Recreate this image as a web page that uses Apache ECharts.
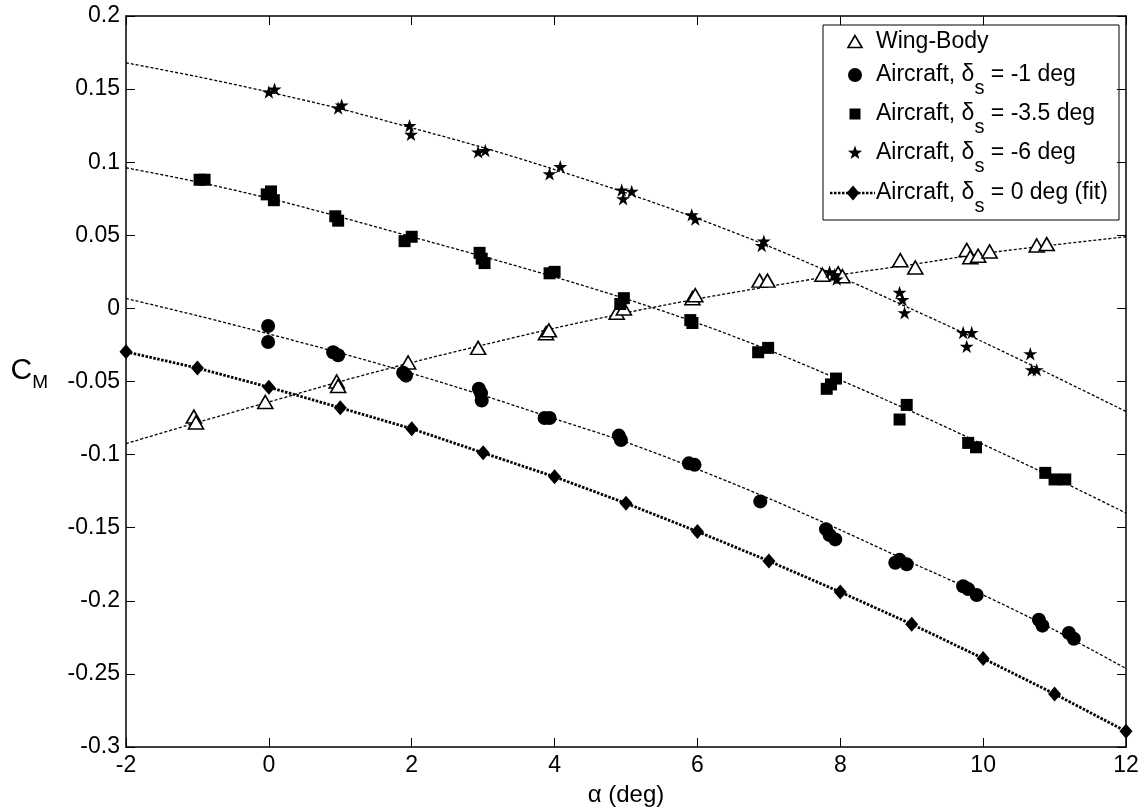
<!DOCTYPE html>
<html>
<head>
<meta charset="utf-8">
<script src="https://cdn.jsdelivr.net/npm/echarts@6/dist/echarts.min.js"></script>
<style>
  html, body { margin: 0; padding: 0; background: #fff; }
  #chart { width: 1142px; height: 812px; }
</style>
</head>
<body>
<div id="chart"></div>
<script>
// Pitching-moment coefficient vs angle of attack

// Wing-body (open triangles)
const wingBodyAlpha = [-1.05, -1.02, -0.05, 0.95, 0.97, 1.95, 2.93, 3.88, 3.92, 4.87, 4.97, 5.93, 5.97, 6.87, 6.98, 7.75, 7.97, 8.03, 8.84, 9.05, 9.77, 9.82, 9.93, 10.09, 10.75, 10.89];
const wingBodyCm    = [-0.074, -0.078, -0.064, -0.050, -0.053, -0.037, -0.027, -0.017, -0.015, -0.003, 0.000, 0.007, 0.009, 0.019, 0.019, 0.023, 0.024, 0.022, 0.033, 0.028, 0.040, 0.035, 0.036, 0.039, 0.043, 0.044];

// Aircraft, delta_s = -1 deg (filled circles)
const ds1Alpha = [-0.01, -0.01, 0.90, 0.97, 1.88, 1.92, 2.94, 2.97, 2.98, 3.86, 3.93, 4.90, 4.93, 5.88, 5.96, 6.88, 7.80, 7.85, 7.93, 8.77, 8.83, 8.93, 9.72, 9.79, 9.91, 10.78, 10.83, 11.20, 11.27];
const ds1Cm    = [-0.012, -0.023, -0.030, -0.032, -0.044, -0.046, -0.055, -0.058, -0.063, -0.075, -0.075, -0.087, -0.090, -0.106, -0.107, -0.132, -0.151, -0.155, -0.158, -0.174, -0.172, -0.175, -0.190, -0.192, -0.196, -0.213, -0.217, -0.222, -0.226];

// Aircraft, delta_s = -3.5 deg (filled squares)
const ds35Alpha = [-0.97, -0.90, -0.03, 0.03, 0.07, 0.93, 0.97, 1.90, 2.00, 2.95, 2.98, 3.02, 3.93, 4.00, 4.92, 4.97, 5.90, 5.93, 6.85, 6.99, 7.81, 7.87, 7.94, 8.83, 8.93, 9.79, 9.90, 10.87, 11.00, 11.15];
const ds35Cm    = [0.088, 0.088, 0.078, 0.080, 0.074, 0.063, 0.060, 0.046, 0.049, 0.038, 0.034, 0.031, 0.024, 0.025, 0.003, 0.007, -0.008, -0.010, -0.030, -0.027, -0.055, -0.052, -0.048, -0.076, -0.066, -0.092, -0.095, -0.1125, -0.117, -0.117];

// Aircraft, delta_s = -6 deg (stars)
const ds6Alpha = [0.00, 0.08, 0.97, 1.02, 1.97, 1.99, 2.93, 3.03, 3.93, 4.08, 4.94, 4.96, 5.08, 5.92, 5.97, 6.90, 6.93, 7.85, 7.92, 7.95, 8.83, 8.87, 8.90, 9.72, 9.84, 9.77, 10.66, 10.68, 10.75];
const ds6Cm    = [0.148, 0.150, 0.137, 0.139, 0.125, 0.119, 0.107, 0.108, 0.092, 0.097, 0.081, 0.075, 0.080, 0.064, 0.061, 0.043, 0.046, 0.025, 0.023, 0.020, 0.011, 0.006, -0.003, -0.0165, -0.0165, -0.026, -0.031, -0.042, -0.042];

// Aircraft, delta_s = 0 deg fit (diamonds joined by a dotted line)
const ds0Alpha = [-2, -1, 0, 1, 2, 3, 4, 5, 6, 7, 8, 9, 10, 11, 12];
const ds0Cm    = [-0.0297, -0.0408, -0.0539, -0.068, -0.0823, -0.0988, -0.1152, -0.1333, -0.1526, -0.1728, -0.194, -0.216, -0.2394, -0.2637, -0.2893];

// Curve fits through each measured set
const fitAlpha    = [-2, -1, 0, 1, 2, 3, 4, 5, 6, 7, 8, 9, 10, 11, 12];
const fitWingBody = [-0.0925, -0.078, -0.064, -0.050, -0.037, -0.025, -0.0135, -0.003, 0.0065, 0.015, 0.023, 0.030, 0.0375, 0.0435, 0.049];
const fitDs1      = [0.0068, -0.005, -0.0175, -0.0305, -0.0445, -0.0595, -0.0755, -0.0915, -0.110, -0.130, -0.1515, -0.174, -0.196, -0.220, -0.2463];
const fitDs35     = [0.0962, 0.0865, 0.0753, 0.0625, 0.049, 0.0355, 0.0215, 0.0065, -0.010, -0.0285, -0.049, -0.0705, -0.093, -0.116, -0.140];
const fitDs6      = [0.168, 0.1585, 0.148, 0.1365, 0.1235, 0.110, 0.095, 0.079, 0.0615, 0.0425, 0.0215, -0.0005, -0.023, -0.0465, -0.0705];

// Legend entries
const legendLabels = [
  'Wing-Body',
  'Aircraft, δ{sub|s} = -1 deg',
  'Aircraft, δ{sub|s} = -3.5 deg',
  'Aircraft, δ{sub|s} = -6 deg',
  'Aircraft, δ{sub|s} = 0 deg (fit)'
];

// Axis ranges and ticks
const xMin = -2, xMax = 12, xStep = 2;
const yMin = -0.3, yMax = 0.2, yStep = 0.05;

const FONT = '"Liberation Sans", Arial, Helvetica, sans-serif';
const LABEL_SIZE = 23;
const STAR = 'path://M50,0 L61.2,34.5 L97.6,34.5 L68.2,55.9 L79.4,90.5 L50,69.1 L20.6,90.5 L31.8,55.9 L2.4,34.5 L38.8,34.5 Z';

const pairs = (xs, ys) => xs.map((x, i) => [x, ys[i]]);

const fitLine = (ys) => ({
  type: 'line',
  data: pairs(fitAlpha, ys),
  showSymbol: false,
  smooth: 0.3,
  silent: true,
  z: 1,
  lineStyle: { color: '#000', width: 1.3, type: [3, 2] }
});

const axisCommon = {
  axisLine: { show: true, onZero: false, lineStyle: { color: '#000', width: 1.5 } },
  axisTick: { show: true, inside: true, length: 9, lineStyle: { color: '#000', width: 1 } },
  splitLine: { show: false }
};

// ---- legend box drawn as graphic elements ----
const LG = { left: 823, top: 25, width: 296, height: 195, iconX: 855, textX: 876 };
const rowY = [42, 75, 114, 153, 193];

function starPoints(cx, cy, R, r) {
  const pts = [];
  for (let i = 0; i < 10; i++) {
    const a = -Math.PI / 2 + i * Math.PI / 5;
    const rad = i % 2 === 0 ? R : r;
    pts.push([cx + rad * Math.cos(a), cy + rad * Math.sin(a)]);
  }
  return pts;
}

const legendIcons = [
  { type: 'polygon', shape: { points: [[LG.iconX, rowY[0] - 6.5], [LG.iconX - 7, rowY[0] + 5.5], [LG.iconX + 7, rowY[0] + 5.5]] },
    style: { fill: '#fff', stroke: '#000', lineWidth: 1.6 } },
  { type: 'circle', shape: { cx: LG.iconX, cy: rowY[1], r: 7 }, style: { fill: '#000' } },
  { type: 'rect', shape: { x: LG.iconX - 5.5, y: rowY[2] - 5.5, width: 11, height: 11 }, style: { fill: '#000' } },
  { type: 'polygon', shape: { points: starPoints(LG.iconX, rowY[3], 7.5, 3) }, style: { fill: '#000' } },
  { type: 'line', shape: { x1: 830, y1: rowY[4], x2: 875, y2: rowY[4] },
    style: { stroke: '#000', lineWidth: 2.6, lineDash: [2.5, 1.5] } },
  { type: 'polygon', shape: { points: [[853, rowY[4] - 7.5], [859.5, rowY[4]], [853, rowY[4] + 7.5], [846.5, rowY[4]]] },
    style: { fill: '#000' } }
];

const legendTexts = legendLabels.map((label, i) => ({
  type: 'text',
  x: LG.textX, y: rowY[i],
  style: {
    text: label,
    fontSize: LABEL_SIZE, fontFamily: FONT, fill: '#000',
    verticalAlign: 'middle', align: 'left',
    rich: {
      sub: { fontSize: 20, fontFamily: FONT, fill: '#000', padding: [26, 0, 0, 0] }
    }
  }
}));

const chart = echarts.init(document.getElementById('chart'), null, { renderer: 'canvas' });

chart.setOption({
  animation: false,
  backgroundColor: '#fff',
  textStyle: { fontFamily: FONT },
  grid: { left: 126, right: 16, top: 16, bottom: 60, containLabel: false },
  xAxis: [
    Object.assign({
      type: 'value', min: xMin, max: xMax, interval: xStep, position: 'bottom',
      name: 'α (deg)', nameLocation: 'middle', nameGap: 36,
      nameTextStyle: { fontSize: 24, color: '#000', fontFamily: FONT },
      axisLabel: { fontSize: LABEL_SIZE, color: '#000', margin: 7, fontFamily: FONT }
    }, axisCommon),
    Object.assign({
      type: 'value', min: xMin, max: xMax, interval: xStep, position: 'top',
      axisLabel: { show: false }
    }, axisCommon)
  ],
  yAxis: [
    Object.assign({
      type: 'value', min: yMin, max: yMax, interval: yStep, position: 'left',
      name: '{c|C}{m|M}', nameLocation: 'middle', nameGap: 78, nameRotate: 0,
      nameTextStyle: {
        color: '#000', fontFamily: FONT, padding: [0, 0, 22, 0],
        rich: {
          c: { fontSize: 30, fontFamily: FONT, color: '#000' },
          m: { fontSize: 19, fontFamily: FONT, color: '#000', padding: [24, 0, 0, 0] }
        }
      },
      axisLabel: {
        fontSize: LABEL_SIZE, color: '#000', margin: 6, fontFamily: FONT,
        formatter: (v) => String(+v.toFixed(2))
      }
    }, axisCommon),
    Object.assign({
      type: 'value', min: yMin, max: yMax, interval: yStep, position: 'right',
      axisLabel: { show: false }
    }, axisCommon)
  ],
  graphic: [{
    type: 'group',
    z: 100,
    children: [
      { type: 'rect', shape: { x: LG.left, y: LG.top, width: LG.width, height: LG.height },
        style: { fill: '#fff', stroke: '#000', lineWidth: 1 } }
    ].concat(legendIcons, legendTexts)
  }],
  series: [
    fitLine(fitWingBody),
    fitLine(fitDs1),
    fitLine(fitDs35),
    fitLine(fitDs6),
    {
      name: 'Wing-Body', type: 'scatter', z: 3,
      data: pairs(wingBodyAlpha, wingBodyCm),
      symbol: 'triangle', symbolSize: [15, 13],
      itemStyle: { color: '#fff', borderColor: '#000', borderWidth: 1.6, opacity: 1 }
    },
    {
      name: 'Aircraft, δs = -1 deg', type: 'scatter', z: 3,
      data: pairs(ds1Alpha, ds1Cm),
      symbol: 'circle', symbolSize: 14,
      itemStyle: { color: '#000', opacity: 1 }
    },
    {
      name: 'Aircraft, δs = -3.5 deg', type: 'scatter', z: 3,
      data: pairs(ds35Alpha, ds35Cm),
      symbol: 'rect', symbolSize: 12,
      itemStyle: { color: '#000', opacity: 1 }
    },
    {
      name: 'Aircraft, δs = -6 deg', type: 'scatter', z: 3,
      data: pairs(ds6Alpha, ds6Cm),
      symbol: STAR, symbolSize: 14, symbolKeepAspect: true,
      itemStyle: { color: '#000', opacity: 1 }
    },
    {
      name: 'Aircraft, δs = 0 deg (fit)', type: 'line', z: 4,
      data: pairs(ds0Alpha, ds0Cm),
      symbol: 'diamond', symbolSize: [13, 15], showSymbol: true,
      itemStyle: { color: '#000', opacity: 1 },
      lineStyle: { color: '#000', width: 2.8, type: [2.5, 1.5] }
    }
  ]
});
</script>
</body>
</html>
